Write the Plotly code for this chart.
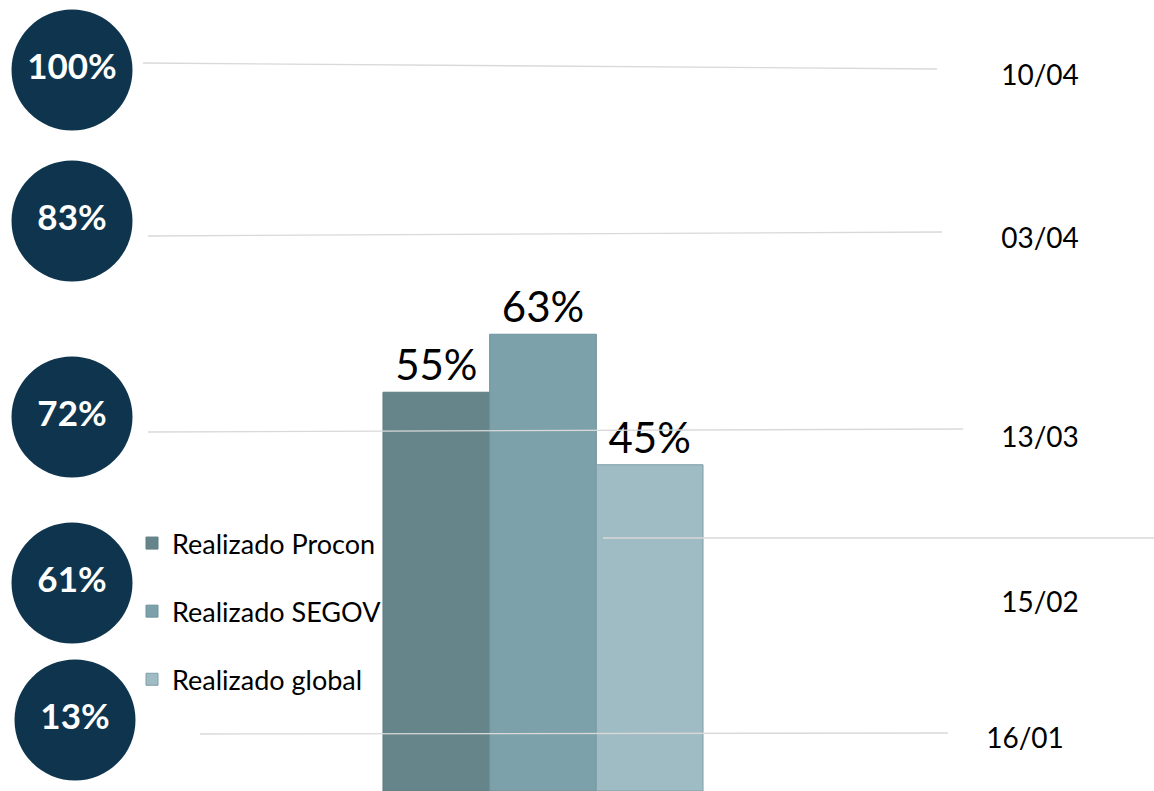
import plotly.graph_objects as go

# ---- data ----
series_names = ["Realizado Procon", "Realizado SEGOV", "Realizado global"]
series_values = [55, 63, 45]
category = ["Realizado"]

milestone_pcts = ["100%", "83%", "72%", "61%", "13%"]
milestone_dates = ["10/04", "03/04", "13/03", "15/02", "16/01"]

# ---- styling / layout geometry (pixel space of the slide) ----
bar_colors = ["#66858B", "#7CA1AA", "#9FBBC3"]
bar_lines = ["#5E7C83", "#6E939C", "#7F9FA8"]
circle_color = "#0F354E"
W, H = 1154, 791

circle_x = [72, 72, 72, 72, 75]
circle_y = [70, 221, 417, 583, 720]
date_x = [1040, 1040, 1040, 1040, 1025]
date_y = [78, 241, 440, 605, 741]
rule_x = [(143, 937), (148, 942), (148, 963), (603, 1154), (200, 948)]
rule_y = [(63, 69), (236, 232), (432, 429), (538, 538), (734, 733)]

fig = go.Figure()

for i, (name, val) in enumerate(zip(series_names, series_values)):
    fig.add_trace(go.Bar(
        x=category, y=[val], name=name,
        marker=dict(color=bar_colors[i], line=dict(color=bar_lines[i], width=1)),
        text=[f"{val}%"], textposition="outside", cliponaxis=False,
        textfont=dict(family="Lato", size=42, color="#000000"),
        legendgroup=f"g{i}", hoverinfo="skip",
    ))

# decorative rules on overlay pixel axes
for (x0, x1), (y0, y1) in zip(rule_x, rule_y):
    fig.add_trace(go.Scatter(
        x=[x0, x1], y=[y0, y1], mode="lines", xaxis="x2", yaxis="y2",
        line=dict(color="#D9D9D9", width=1.3), showlegend=False, hoverinfo="skip",
    ))

# milestone circles
fig.add_trace(go.Scatter(
    x=circle_x, y=circle_y, mode="markers+text", xaxis="x2", yaxis="y2",
    marker=dict(size=121, color=circle_color, line=dict(width=0)),
    text=milestone_pcts, textposition="middle center",
    textfont=dict(family="Lato", size=35, color="white", weight=700),
    showlegend=False, hoverinfo="skip",
))

# dates
fig.add_trace(go.Scatter(
    x=date_x, y=date_y, mode="text", xaxis="x2", yaxis="y2",
    text=milestone_dates, textposition="middle center",
    textfont=dict(family="Lato", size=28, color="#000000"),
    showlegend=False, hoverinfo="skip",
))

span = 3.0
x_left = -543 * span / W
fig.update_layout(
    width=W, height=H,
    margin=dict(l=0, r=0, t=0, b=0),
    paper_bgcolor="white", plot_bgcolor="rgba(0,0,0,0)",
    barmode="group", bargap=0.168, bargroupgap=0,
    xaxis=dict(visible=False, range=[x_left, x_left + span], fixedrange=True),
    yaxis=dict(visible=False, range=[0, 109.1], fixedrange=True),
    xaxis2=dict(visible=False, overlaying="x", range=[0, W], fixedrange=True),
    yaxis2=dict(visible=False, overlaying="y", range=[H, 0], fixedrange=True),
    legend=dict(
        x=132 / W, xanchor="left", y=1 - 519 / H, yanchor="top",
        font=dict(family="Lato", size=27, color="#000000"),
        traceorder="grouped", tracegroupgap=30, bgcolor="rgba(0,0,0,0)",
    ),
    showlegend=True,
)

fig.write_html(
    "out.html",
    config={"displayModeBar": False},
    post_script="document.body.style.margin='0px';",
)
